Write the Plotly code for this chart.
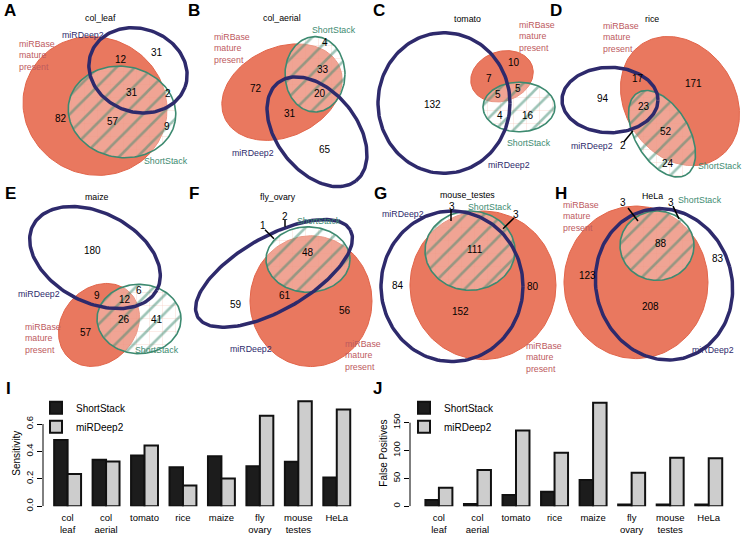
import numpy as np
import plotly.graph_objects as go

# ---------------- DATA ----------------
venn_titles = ["col_leaf", "col_aerial", "tomato", "rice", "maize", "fly_ovary", "mouse_testes", "HeLa"]
panel_letters = ["A", "B", "C", "D", "E", "F", "G", "H"]

# region counts of each Venn diagram
col_leaf_counts = [12, 31, 31, 2, 82, 57, 9]
col_aerial_counts = [4, 33, 72, 20, 31, 65]
tomato_counts = [10, 7, 5, 5, 132, 4, 16]
rice_counts = [17, 171, 94, 23, 52, 2, 24]
maize_counts = [180, 9, 6, 12, 26, 41, 57]
fly_ovary_counts = [48, 61, 59, 56, 1, 2]
mouse_testes_counts = [111, 84, 80, 152, 3, 3]
hela_counts = [3, 3, 88, 83, 123, 208]
venn_counts = [col_leaf_counts, col_aerial_counts, tomato_counts, rice_counts,
               maize_counts, fly_ovary_counts, mouse_testes_counts, hela_counts]

samples = ["col<br>leaf", "col<br>aerial", "tomato", "rice", "maize", "fly<br>ovary", "mouse<br>testes", "HeLa"]
sens_shortstack = [0.484, 0.340, 0.370, 0.285, 0.365, 0.291, 0.324, 0.210]
sens_mirdeep2 = [0.236, 0.327, 0.444, 0.152, 0.202, 0.661, 0.767, 0.706]
fp_shortstack = [11, 4, 20, 26, 47, 3, 3, 3]
fp_mirdeep2 = [33, 65, 136, 96, 186, 60, 87, 86]
sens_ticks = [0, 0.2, 0.4, 0.6]
sens_ticktext = ["0.0", "0.2", "0.4", "0.6"]
fp_ticks = [0, 50, 100, 150]
fp_ticktext = ["0", "50", "100", "150"]

# ---------------- LAYOUT / STYLE (pixel geometry of the Venn panels) ----------------
W, H = 742, 535
FONT = "Liberation Sans, Arial, sans-serif"
RED_FILL = "#e9785f"
RED_LINE = "#e2654a"
NAVY = "#2e2a6c"
TEAL = "#3d8a70"
ROSE = "#bd5a5e"
LABEL_SIZE = 8.8
NUM_SIZE = 10

# ellipses: (cx, cy, rx, ry, angle_deg)
venn_geom = [
    dict(red=(95, 107, 73, 69, 30), green=(122, 113, 54, 46, 10), navy=(138, 71, 50, 42, 20)),
    dict(red=(282, 93, 63, 45, -25), green=(315, 75, 30, 38, 0), navy=(317, 133, 63, 40, 52)),
    dict(red=(502, 77, 32, 25, -20), green=(519, 108, 36, 25, 0), navy=(444, 104, 66, 71, 0)),
    dict(red=(680, 102, 69, 55, 57), green=(662, 135, 48, 27, 60), navy=(610, 101, 48, 33, 0)),
    dict(red=(99, 328, 45, 37, -50), green=(139, 322, 42, 35, 0), navy=(95, 260, 70, 45, 28)),
    dict(red=(311, 304, 61, 66, 0), green=(308, 262, 42, 33, 0), navy=(274, 276, 88, 37, -30)),
    dict(red=(483, 288, 73, 75, 0), green=(470, 253, 45, 40, 0), navy=(452, 289, 71, 76, 0)),
    dict(red=(636, 285, 72, 77, 0), green=(657, 248, 37, 35, 0), navy=(664, 287, 68, 77, -15)),
]
count_pos = [
    [(121, 60), (157, 53), (132, 93), (168, 94), (61, 120), (113, 123), (167, 128)],
    [(325, 43), (323, 70), (256, 89), (320, 94), (290, 115), (325, 151)],
    [(514, 63), (489, 79), (498, 95), (518, 89), (432, 105), (500, 117), (528, 117)],
    [(638, 79), (693, 84), (603, 99), (644, 107), (666, 133), (623, 147), (668, 165)],
    [(92, 253), (97, 298), (139, 293), (125, 302), (124, 323), (157, 323), (86, 336)],
    [(308, 255), (285, 298), (236, 307), (345, 313), (263, 228), (285, 219)],
    [(475, 252), (398, 288), (533, 289), (460, 314), (452, 208), (516, 217)],
    [(623, 204), (671, 204), (661, 246), (718, 261), (587, 278), (650, 309)],
]
title_pos = [(100, 18), (282, 18), (467, 19), (652, 19), (97, 199), (278, 199), (467, 197), (652, 198)]
letter_pos = [(10, 11), (194, 11), (379, 11), (556, 11), (10, 195), (194, 195), (380, 195), (561, 195)]
# (x_left, y) for the three set labels
mirbase_pos = [(17, 43), (212, 36), (517, 24), (601, 25), (23, 329), (343, 346), (524, 348), (561, 206)]
mirdeep_pos = [(60, 35), (230, 154), (486, 167), (569, 147), (16, 297), (228, 352), (380, 216), (690, 353)]
shortstack_pos = [(142, 163), (310, 30), (505, 144), (696, 168), (133, 353), (295, 223), (466, 209), (676, 202)]
leaders = [
    ((633, 132), (624, 143)),
    ((265, 232), (274, 241)),
    ((285, 222), (285, 229)),
    ((451, 212), (451, 223)),
    ((514, 220), (503, 231)),
    ((628, 210), (638, 223)),
    ((673, 208), (679, 221)),
]


def ellipse_xy(cx, cy, rx, ry, ang, n=160):
    t = np.linspace(0, 2 * np.pi, n)
    a = np.deg2rad(ang)
    x = rx * np.cos(t)
    y = ry * np.sin(t)
    return cx + x * np.cos(a) - y * np.sin(a), cy + x * np.sin(a) + y * np.cos(a)


fig = go.Figure()

# -------- Venn diagrams on a pixel-space axis --------
for g in venn_geom:
    x, y = ellipse_xy(*g["red"])
    fig.add_trace(go.Scatter(x=x, y=y, mode="lines", fill="toself", fillcolor=RED_FILL,
                             line=dict(color=RED_LINE, width=1), hoverinfo="skip",
                             showlegend=False, xaxis="x", yaxis="y"))
    x, y = ellipse_xy(*g["green"])
    # light grid inside the ShortStack set
    fig.add_trace(go.Scatter(x=x, y=y, mode="lines", fill="toself",
                             fillcolor="rgba(255,255,255,0.33)",
                             fillpattern=dict(shape="+", fgcolor="rgba(236,150,130,0.9)", size=13,
                                              solidity=0.06, fillmode="overlay"),
                             line=dict(color=TEAL, width=0), hoverinfo="skip",
                             showlegend=False, xaxis="x", yaxis="y"))
    # diagonal teal hatching + outline
    fig.add_trace(go.Scatter(x=x, y=y, mode="lines", fill="toself",
                             fillcolor="rgba(255,255,255,0)",
                             fillpattern=dict(shape="/", fgcolor=TEAL, size=13, solidity=0.2,
                                              fillmode="overlay"),
                             line=dict(color=TEAL, width=1.6), hoverinfo="skip",
                             showlegend=False, xaxis="x", yaxis="y"))
    x, y = ellipse_xy(*g["navy"])
    fig.add_trace(go.Scatter(x=x, y=y, mode="lines", line=dict(color=NAVY, width=3.5),
                             hoverinfo="skip", showlegend=False, xaxis="x", yaxis="y"))

ann = []
shapes = []
for i in range(8):
    for c, (px_, py_) in zip(venn_counts[i], count_pos[i]):
        ann.append(dict(x=px_, y=py_, xref="x", yref="y", text=str(c), showarrow=False,
                        font=dict(size=NUM_SIZE, color="black", family=FONT)))
    tx, ty = title_pos[i]
    ann.append(dict(x=tx, y=ty, xref="x", yref="y", text=venn_titles[i], showarrow=False,
                    font=dict(size=LABEL_SIZE, color="black", family=FONT)))
    lx, ly = letter_pos[i]
    ann.append(dict(x=lx, y=ly, xref="x", yref="y", text="<b>" + panel_letters[i] + "</b>",
                    showarrow=False, font=dict(size=17, color="black", family=FONT)))
    mx, my = mirbase_pos[i]
    ann.append(dict(x=mx, y=my, xref="x", yref="y", text="miRBase<br>mature<br>present",
                    showarrow=False, xanchor="left", yanchor="top", align="left",
                    yshift=6, font=dict(size=LABEL_SIZE, color=ROSE, family=FONT)))
    dx, dy = mirdeep_pos[i]
    ann.append(dict(x=dx, y=dy, xref="x", yref="y", text="miRDeep2", showarrow=False,
                    xanchor="left", font=dict(size=LABEL_SIZE, color=NAVY, family=FONT)))
    sx, sy = shortstack_pos[i]
    ann.append(dict(x=sx, y=sy, xref="x", yref="y", text="ShortStack", showarrow=False,
                    xanchor="left", font=dict(size=LABEL_SIZE, color=TEAL, family=FONT)))

for (x0, y0), (x1, y1) in leaders:
    shapes.append(dict(type="line", xref="x", yref="y", x0=x0, y0=y0, x1=x1, y1=y1,
                       line=dict(color="black", width=1.5)))

# -------- bar charts --------
BAR_LINE = dict(color="#111111", width=2)
fig.add_trace(go.Bar(x=samples, y=sens_shortstack, name="ShortStack", marker=dict(color="#1c1c1c", line=BAR_LINE),
                     xaxis="x2", yaxis="y2", legend="legend"))
fig.add_trace(go.Bar(x=samples, y=sens_mirdeep2, name="miRDeep2", marker=dict(color="#cdcdcd", line=BAR_LINE),
                     xaxis="x2", yaxis="y2", legend="legend"))
fig.add_trace(go.Bar(x=samples, y=fp_shortstack, name="ShortStack", marker=dict(color="#1c1c1c", line=BAR_LINE),
                     xaxis="x3", yaxis="y3", legend="legend2"))
fig.add_trace(go.Bar(x=samples, y=fp_mirdeep2, name="miRDeep2", marker=dict(color="#cdcdcd", line=BAR_LINE),
                     xaxis="x3", yaxis="y3", legend="legend2"))

# axis lines R-style
shapes.append(dict(type="line", xref="x2 domain", yref="y2", x0=0, x1=0, y0=0, y1=0.6, line=dict(color="black", width=1)))
shapes.append(dict(type="line", xref="x3 domain", yref="y3", x0=0, x1=0, y0=0, y1=150, line=dict(color="black", width=1)))

ann.append(dict(x=8, y=392, xref="x", yref="y", text="<b>I</b>", showarrow=False, font=dict(size=17, color="black", family=FONT)))
ann.append(dict(x=377, y=392, xref="x", yref="y", text="<b>J</b>", showarrow=False, font=dict(size=17, color="black", family=FONT)))
ann.append(dict(x=17, y=458, xref="x", yref="y", text="Sensitivity", textangle=-90, showarrow=False, font=dict(size=10, color="black", family=FONT)))
ann.append(dict(x=384, y=458, xref="x", yref="y", text="False Positives", textangle=-90, showarrow=False, font=dict(size=10, color="black", family=FONT)))


def px(v):
    return v / W


def py(v):
    return (H - v) / H


axfont = dict(size=9.5, color="black", family=FONT)
fig.update_layout(
    width=W, height=H, margin=dict(l=0, r=0, t=0, b=0),
    paper_bgcolor="white", plot_bgcolor="rgba(0,0,0,0)",
    xaxis=dict(range=[0, W], domain=[0, 1], visible=False, fixedrange=True),
    yaxis=dict(range=[H, 0], domain=[0, 1], visible=False, fixedrange=True),
    xaxis2=dict(domain=[px(43), px(356)], range=[-0.64, 7.5], anchor="y2", showline=False, ticks="",
                tickfont=axfont, showgrid=False, zeroline=False, ticklabelstandoff=4),
    yaxis2=dict(domain=[py(511), py(511 - 0.8 * 138.3)], range=[0, 0.8], anchor="x2", showline=False,
                tickvals=sens_ticks, ticktext=sens_ticktext, tickangle=-90, ticks="outside", ticklen=5,
                tickcolor="black", tickfont=axfont, showgrid=False, zeroline=False),
    xaxis3=dict(domain=[px(410), px(728)], range=[-0.75, 7.5], anchor="y3", showline=False, ticks="",
                tickfont=axfont, showgrid=False, zeroline=False, ticklabelstandoff=4),
    yaxis3=dict(domain=[py(511), py(511 - 190 * 0.562)], range=[0, 190], anchor="x3", showline=False,
                tickvals=fp_ticks, ticktext=fp_ticktext, tickangle=-90, ticks="outside", ticklen=5,
                tickcolor="black", tickfont=axfont, showgrid=False, zeroline=False),
    barmode="group", bargap=0.3, bargroupgap=0,
    legend=dict(x=px(36), y=py(397), xanchor="left", yanchor="top", bgcolor="rgba(0,0,0,0)",
                font=dict(size=10, color="black", family=FONT), tracegroupgap=0, itemwidth=30),
    legend2=dict(x=px(404), y=py(397), xanchor="left", yanchor="top", bgcolor="rgba(0,0,0,0)",
                 font=dict(size=10, color="black", family=FONT), tracegroupgap=0, itemwidth=30),
    annotations=ann, shapes=shapes, font=dict(family=FONT),
)

fig.write_html("out.html", config={"displayModeBar": False})
with open("out.html", "r", encoding="utf-8") as f:
    html = f.read()
html = html.replace("<head>", "<head><style>body{margin:0;padding:0;}</style>", 1)
with open("out.html", "w", encoding="utf-8") as f:
    f.write(html)
